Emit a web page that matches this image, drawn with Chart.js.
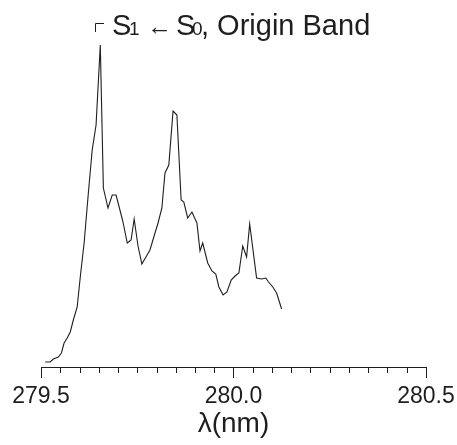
<!DOCTYPE html>
<html>
<head>
<meta charset="utf-8">
<script src="https://cdn.jsdelivr.net/npm/chart.js@4/dist/chart.umd.min.js"></script>
<style>
  html, body { margin: 0; padding: 0; background: #fff; }
  canvas { display: block; }
</style>
</head>
<body>
<canvas id="c" width="457" height="445"></canvas>
<script>
// Wavelength (nm)
const wavelengths = [
  279.511, 279.524, 279.532, 279.545, 279.553, 279.560, 279.568, 279.576, 279.584, 279.594,
  279.602, 279.612, 279.623, 279.633, 279.643, 279.654, 279.662, 279.674, 279.685, 279.695,
  279.705, 279.713, 279.724, 279.734, 279.742, 279.752, 279.762, 279.783, 279.793, 279.804,
  279.814, 279.822, 279.832, 279.843, 279.853, 279.864, 279.871, 279.881, 279.892, 279.905,
  279.913, 279.920, 279.933, 279.944, 279.954, 279.962, 279.973, 279.983, 279.994, 280.004,
  280.014, 280.024, 280.034, 280.042, 280.060, 280.073, 280.084, 280.091, 280.102, 280.112,
  280.125
];
// Intensity (arbitrary units)
const intensity = [
  5, 5, 8, 10, 14, 24, 29, 35, 47, 60,
  90, 124, 174, 217, 242, 322, 179, 159, 172, 172,
  157, 145, 124, 127, 148, 121, 103, 117, 130, 144,
  159, 194, 202, 256, 252, 167, 165, 149, 155, 144,
  116, 124, 104, 96, 93, 80, 72, 75, 87, 91,
  94, 121, 110, 143, 89, 88, 89, 85, 80, 74,
  58
];
const xTicks = [279.5, 280.0, 280.5];
const minorStep = 0.05;
const xTitle = "λ(nm)";
const titleParts = [
  { text: "S", size: 29, x: 112 },
  { text: "1", size: 19, x: 129 },
  { text: "←", size: 25, x: 147 },
  { text: "S", size: 29, x: 176 },
  { text: "0", size: 19, x: 192 },
  { text: ", Origin Band", size: 29, x: 201 }
];

const FONT = "'Liberation Sans', Arial, Helvetica, sans-serif";
const INK = "#1e1e1e";

const points = wavelengths.map((w, i) => ({ x: w, y: intensity[i] }));

const decorPlugin = {
  id: 'decor',
  afterDraw(chart) {
    const ctx = chart.ctx;
    const xs = chart.scales.x;
    const area = chart.chartArea;
    ctx.save();
    // minor ticks
    ctx.strokeStyle = INK;
    ctx.lineWidth = 1;
    const lo = xTicks[0], hi = xTicks[xTicks.length - 1];
    const n = Math.round((hi - lo) / minorStep);
    for (let i = 1; i < n; i++) {
      const v = lo + i * minorStep;
      if (xTicks.some(t => Math.abs(t - v) < 1e-6)) continue;
      const px = Math.round(xs.getPixelForValue(v)) + 0.5;
      ctx.beginPath();
      ctx.moveTo(px, area.bottom);
      ctx.lineTo(px, area.bottom + 6);
      ctx.stroke();
    }
    // title with bracket marker
    const baseY = 35;
    ctx.fillStyle = INK;
    ctx.textBaseline = 'alphabetic';
    ctx.textAlign = 'left';
    for (const p of titleParts) {
      ctx.font = p.size + "px " + FONT;
      ctx.fillText(p.text, p.x, baseY);
    }
    ctx.beginPath();
    ctx.moveTo(95.5, 32);
    ctx.lineTo(95.5, 23.5);
    ctx.lineTo(104, 23.5);
    ctx.stroke();
    ctx.restore();
  }
};

new Chart(document.getElementById('c'), {
  type: 'line',
  data: {
    datasets: [{
      data: points,
      borderColor: INK,
      borderWidth: 1.1,
      pointRadius: 0,
      tension: 0,
      fill: false
    }]
  },
  options: {
    responsive: false,
    animation: false,
    layout: { padding: { left: 41, right: 31, top: 37, bottom: 0 } },
    plugins: { legend: { display: false }, tooltip: { enabled: false }, title: { display: false } },
    scales: {
      x: {
        type: 'linear',
        min: 279.5,
        max: 280.5,
        afterBuildTicks(scale) { scale.ticks = xTicks.map(v => ({ value: v })); },
        grid: { drawOnChartArea: false, drawTicks: true, tickLength: 11, color: INK, tickWidth: 1 },
        border: { display: true, color: INK, width: 1 },
        ticks: {
          padding: 2,
          color: INK,
          maxRotation: 0,
          autoSkip: false,
          font: { family: FONT, size: 23, lineHeight: '34px' },
          callback: v => Number(v).toFixed(1)
        },
        title: {
          display: true,
          text: xTitle,
          color: INK,
          padding: { top: 0, bottom: 13 },
          font: { family: FONT, size: 28, lineHeight: '16px' }
        }
      },
      y: {
        display: false,
        min: 0,
        max: 330
      }
    }
  },
  plugins: [decorPlugin]
});
</script>
</body>
</html>
